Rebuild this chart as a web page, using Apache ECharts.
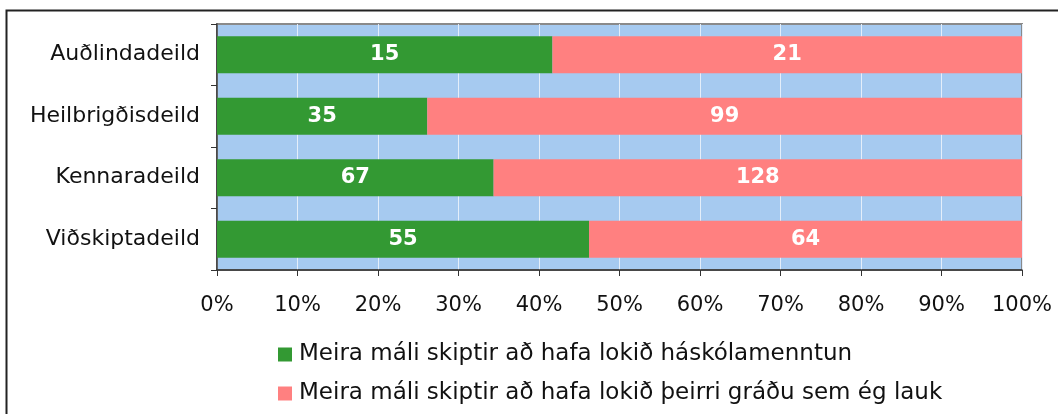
<!DOCTYPE html>
<html>
<head>
<meta charset="utf-8">
<script src="https://cdn.jsdelivr.net/npm/echarts@6/dist/echarts.min.js"></script>
<style>
  html, body { margin: 0; padding: 0; background: #fff; }
  #chart { width: 1058px; height: 414px; }
</style>
</head>
<body>
<div id="chart"></div>
<script>
// Departments, top to bottom
const categories = ['Auðlindadeild', 'Heilbrigðisdeild', 'Kennaradeild', 'Viðskiptadeild'];
// Answer counts per department
const degreeCounts = [15, 35, 67, 55];   // "háskólamenntun"
const ownDegreeCounts = [21, 99, 128, 64]; // "þeirri gráðu sem ég lauk"
const seriesNames = [
  'Meira máli skiptir að hafa lokið háskólamenntun',
  'Meira máli skiptir að hafa lokið þeirri gráðu sem ég lauk'
];
const xTicks = { min: 0, max: 100, interval: 10 };

// Shares in percent of each department's total
const totals = categories.map((_, i) => degreeCounts[i] + ownDegreeCounts[i]);
const degreePct = degreeCounts.map((v, i) => v / totals[i] * 100);
const ownDegreePct = ownDegreeCounts.map((v, i) => v / totals[i] * 100);

const FONT = "'DejaVu Sans', Verdana, sans-serif";
const chart = echarts.init(document.getElementById('chart'), null, { renderer: 'canvas' });

function labelFrom(counts) {
  return {
    show: true,
    position: 'inside',
    color: '#ffffff',
    fontFamily: FONT,
    fontWeight: 'bold',
    fontSize: 21,
    formatter: p => String(counts[p.dataIndex])
  };
}

chart.setOption({
  animation: false,
  textStyle: { fontFamily: FONT },
  graphic: [{
    type: 'rect',
    shape: { x: 6.5, y: 10.5, width: 1200, height: 600 },
    style: { fill: 'none', stroke: '#222', lineWidth: 2 },
    silent: true,
    z: -10
  }],
  grid: {
    left: 217, right: 36, top: 24, bottom: 144,
    show: true,
    backgroundColor: '#a6caf0',
    borderColor: '#8a8a8a',
    borderWidth: 2
  },
  legend: {
    orient: 'vertical',
    left: 273,
    top: 338,
    itemGap: 16,
    itemWidth: 14,
    itemHeight: 14,
    icon: 'rect',
    textStyle: { fontFamily: FONT, fontSize: 23, color: '#111', padding: [0, 0, 0, 2] },
    data: seriesNames
  },
  xAxis: {
    type: 'value',
    min: xTicks.min,
    max: xTicks.max,
    interval: xTicks.interval,
    axisLine: { show: true, lineStyle: { color: '#333', width: 1.5 } },
    axisTick: { show: true, length: 6, lineStyle: { color: '#333' } },
    axisLabel: { formatter: '{value}%', color: '#111', fontSize: 21, fontFamily: FONT, margin: 25 },
    splitLine: { show: true, lineStyle: { color: '#e4eefa', width: 1 } }
  },
  yAxis: {
    type: 'category',
    inverse: true,
    data: categories,
    axisLine: { show: true, lineStyle: { color: '#333', width: 1.5 } },
    axisTick: { show: true, length: 6, alignWithLabel: false, lineStyle: { color: '#333' } },
    axisLabel: { color: '#111', fontSize: 22, fontFamily: FONT, margin: 17 },
    splitLine: { show: false }
  },
  series: [
    {
      name: seriesNames[0],
      type: 'bar',
      stack: 'total',
      barWidth: '60%',
      itemStyle: { color: '#339933' },
      label: labelFrom(degreeCounts),
      data: degreePct
    },
    {
      name: seriesNames[1],
      type: 'bar',
      stack: 'total',
      barWidth: '60%',
      itemStyle: { color: '#ff8080' },
      label: labelFrom(ownDegreeCounts),
      data: ownDegreePct
    }
  ]
});
</script>
</body>
</html>
